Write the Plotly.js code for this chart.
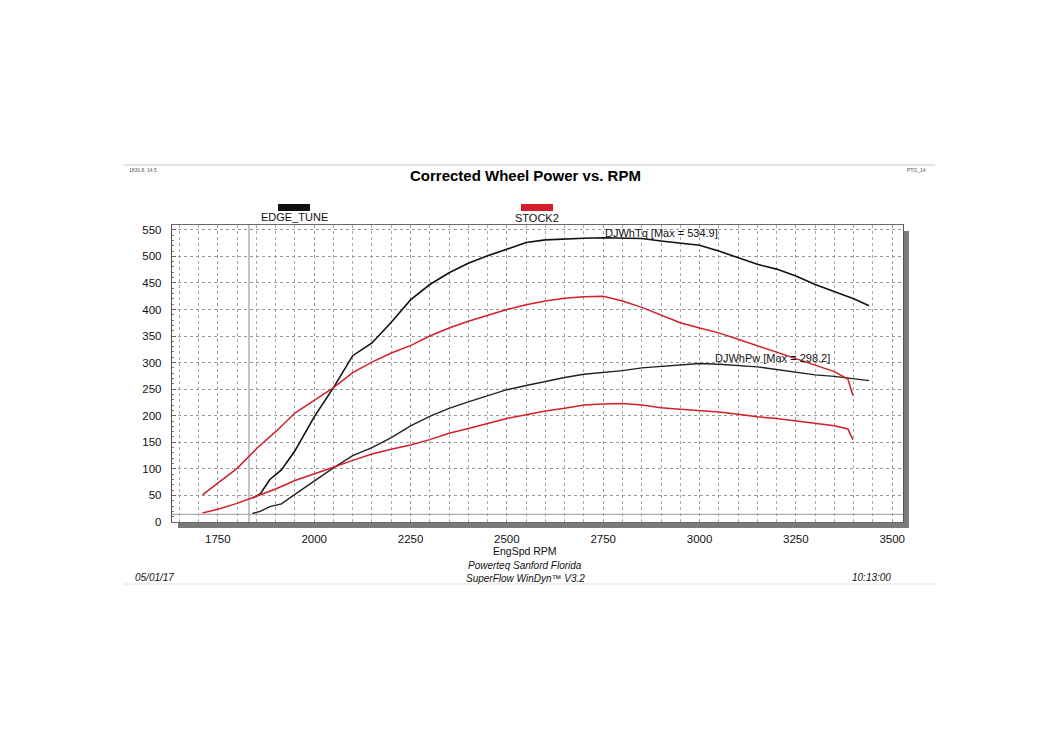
<!DOCTYPE html>
<html>
<head>
<meta charset="utf-8">
<script src="https://cdn.plot.ly/plotly-3.0.1.min.js"></script>
<style>
  html, body { margin: 0; padding: 0; background: #ffffff; }
  #chart { width: 1050px; height: 750px; }
</style>
</head>
<body>
<div id="chart"></div>
<script>
// Dyno run names
const runNames = ['EDGE_TUNE', 'STOCK2'];

// EDGE_TUNE run: engine speed (RPM), wheel torque (lb-ft), wheel power (hp)
const edgeRpm = [1840, 1860, 1885, 1915, 1950, 2000, 2050, 2100, 2150, 2200, 2250, 2300, 2350, 2400, 2450, 2500,
  2550, 2600, 2650, 2700, 2750, 2800, 2850, 2900, 2950, 3000, 3050, 3100, 3150, 3200, 3250, 3300, 3350, 3400, 3440];
const edgeTq = [45, 53, 80, 98, 134, 198, 253, 313, 337, 376, 418, 447, 469, 487, 501, 513,
  526, 531, 533, 534, 534.9, 534.5, 533.5, 529, 525, 521, 510, 498, 485, 476, 463, 447, 433, 420, 407];
const edgePw = [16, 20, 29, 34, 52, 77, 102, 125, 140, 159, 181, 199, 214, 226, 238, 249,
  257, 265, 272, 278, 281, 285, 290, 293, 296, 298.2, 297, 295, 292, 287, 282, 277, 274, 270, 266];

// STOCK2 run
const stockRpm = [1710, 1750, 1800, 1850, 1900, 1950, 2000, 2050, 2100, 2150, 2200, 2250, 2300, 2350, 2400, 2450,
  2500, 2550, 2600, 2650, 2700, 2750, 2800, 2850, 2900, 2950, 3000, 3050, 3100, 3150, 3200, 3250, 3300, 3350, 3385, 3398];
const stockTq = [51, 74, 101, 138, 170, 205, 229, 253, 281, 301, 318, 332, 350, 365, 378, 389,
  400, 409, 416, 421, 424, 425, 416, 404, 389, 375, 365, 356, 344, 332, 320, 307, 296, 283, 269, 238];
const stockPw = [17, 24, 35, 48, 62, 78, 90, 103, 116, 128, 137, 145, 155, 167, 176, 186,
  195, 202, 209, 214, 220, 222, 223, 220, 215, 212, 210, 207, 203, 198, 195, 190, 186, 181, 175, 155];

// Cursor readout (RPM, value)
const cursorRpm = 1830.8;
const cursorVal = 14.5;

// Axis ticks
const xTicks = [1750, 2000, 2250, 2500, 2750, 3000, 3250, 3500];
const yTicks = [0, 50, 100, 150, 200, 250, 300, 350, 400, 450, 500, 550];

const edgeColor = '#111111';
const stockColor = '#d21f2b';
const FONT = 'Arial, "Liberation Sans", sans-serif';

// Plot-area pixel box, used to place page decorations in paper units
const L = 172, R = 903, T = 225, B = 522;
const px = x => (x - L) / (R - L);
const py = y => (B - y) / (B - T);

const line = (color, w) => ({ color: color, width: w, shape: 'linear' });
const traces = [
  { x: edgeRpm, y: edgeTq, mode: 'lines', line: line(edgeColor, 1.6), name: runNames[0] + ' Tq', hoverinfo: 'skip' },
  { x: edgeRpm, y: edgePw, mode: 'lines', line: line('#222222', 1.4), name: runNames[0] + ' Pw', hoverinfo: 'skip' },
  { x: stockRpm, y: stockTq, mode: 'lines', line: line(stockColor, 1.5), name: runNames[1] + ' Tq', hoverinfo: 'skip' },
  { x: stockRpm, y: stockPw, mode: 'lines', line: line(stockColor, 1.5), name: runNames[1] + ' Pw', hoverinfo: 'skip' }
];

const maxTq = Math.max(...edgeTq);
const maxPw = Math.max(...edgePw);

const grid = { gridcolor: '#9a9a9a', griddash: 'dot', gridwidth: 1 };

const shapes = [
  // header and footer rules
  { type: 'line', xref: 'paper', yref: 'paper', x0: px(124), x1: px(935), y0: py(165), y1: py(165), line: { color: '#c8c8c8', width: 1 } },
  { type: 'line', xref: 'paper', yref: 'paper', x0: px(124), x1: px(935), y0: py(584), y1: py(584), line: { color: '#e0e0e0', width: 1 } },
  // drop shadow of the plot frame
  { type: 'rect', xref: 'paper', yref: 'paper', x0: px(904), x1: px(909), y0: py(231), y1: py(528), fillcolor: '#7a7a7a', line: { width: 0 } },
  { type: 'rect', xref: 'paper', yref: 'paper', x0: px(178), x1: px(909), y0: py(523), y1: py(528), fillcolor: '#7a7a7a', line: { width: 0 } },
  // cursor cross-hair
  { type: 'line', xref: 'x', yref: 'paper', x0: cursorRpm, x1: cursorRpm, y0: 0, y1: 1, line: { color: '#8c8c8c', width: 1 }, layer: 'below' },
  { type: 'line', xref: 'paper', yref: 'y', x0: 0, x1: 1, y0: cursorVal, y1: cursorVal, line: { color: '#9c9c9c', width: 1 }, layer: 'below' },
  // legend swatches
  { type: 'rect', xref: 'paper', yref: 'paper', x0: px(278), x1: px(310), y0: py(211), y1: py(204), fillcolor: edgeColor, line: { width: 0 } },
  { type: 'rect', xref: 'paper', yref: 'paper', x0: px(521), x1: px(553), y0: py(211), y1: py(204), fillcolor: stockColor, line: { width: 0 } }
];

const ann = (text, x, y, opts) => Object.assign({
  text: text, xref: 'paper', yref: 'paper', x: px(x), y: py(y), showarrow: false,
  xanchor: 'center', yanchor: 'middle', font: { family: FONT, size: 12, color: '#111' }
}, opts || {});

const annotations = [
  ann('Corrected Wheel Power vs. RPM', 525, 175, { font: { family: FONT, size: 15, color: '#000', weight: 'bold' } }),
  ann(cursorRpm.toFixed(1) + ', ' + cursorVal.toFixed(1), 127, 170, { xanchor: 'left', font: { family: FONT, size: 5, color: '#555' } }),
  ann('PTO_14', 928, 170, { xanchor: 'right', font: { family: FONT, size: 5, color: '#555' } }),
  ann(runNames[0], 294, 217.5, { font: { family: FONT, size: 11, color: '#111' } }),
  ann(runNames[1], 537, 218, { font: { family: FONT, size: 11, color: '#111' } }),
  ann('DJWhTq [Max = ' + maxTq.toFixed(1) + ']', 603, 232.5, { xanchor: 'left', font: { family: FONT, size: 11, color: '#111' } }),
  ann('DJWhPw [Max = ' + maxPw.toFixed(1) + ']', 713, 357.5, { xanchor: 'left', font: { family: FONT, size: 11, color: '#111' } }),
  ann('EngSpd RPM', 525, 551, { font: { family: FONT, size: 10.5, color: '#111' } }),
  ann('<i>Powerteq Sanford Florida</i>', 525, 565, { font: { family: FONT, size: 10, color: '#111' } }),
  ann('<i>SuperFlow WinDyn\u2122 V3.2</i>', 525, 578, { font: { family: FONT, size: 10, color: '#111' } }),
  ann('<i>05/01/17</i>', 133, 577, { xanchor: 'left', font: { family: FONT, size: 10, color: '#111' } }),
  ann('<i>10:13:00</i>', 893, 577, { xanchor: 'right', font: { family: FONT, size: 10, color: '#111' } })
];

const layout = {
  width: 1050, height: 750,
  margin: { l: L, r: 1050 - R, t: T, b: 750 - B, pad: 0 },
  paper_bgcolor: '#ffffff', plot_bgcolor: '#ffffff',
  showlegend: false,
  font: { family: FONT, size: 12, color: '#111' },
  xaxis: Object.assign({
    range: [1631, 3528], tickvals: xTicks, ticktext: xTicks.map(String),
    showgrid: true, zeroline: false, showline: true, mirror: true, linecolor: '#6a6a6a', linewidth: 1,
    ticks: '', ticklabelstandoff: 6, tickfont: { family: FONT, size: 11.5, color: '#111' },
    minor: { dtick: 50, tick0: 0, showgrid: true, gridcolor: '#a8a8a8', griddash: 'dot', gridwidth: 1, ticks: '' }
  }, grid),
  yaxis: Object.assign({
    range: [0, 559], tickvals: yTicks, ticktext: yTicks.map(String),
    showgrid: true, zeroline: false, showline: true, mirror: true, linecolor: '#555', linewidth: 1.2,
    ticks: 'inside', ticklen: 4, tickcolor: '#666', ticklabelstandoff: 7,
    tickfont: { family: FONT, size: 11.5, color: '#111' },
    minor: { dtick: 10, tick0: 0, ticks: 'inside', ticklen: 2, tickcolor: '#777', showgrid: false }
  }, grid),
  shapes: shapes,
  annotations: annotations
};

Plotly.newPlot('chart', traces, layout, { displayModeBar: false, staticPlot: true });
</script>
</body>
</html>
